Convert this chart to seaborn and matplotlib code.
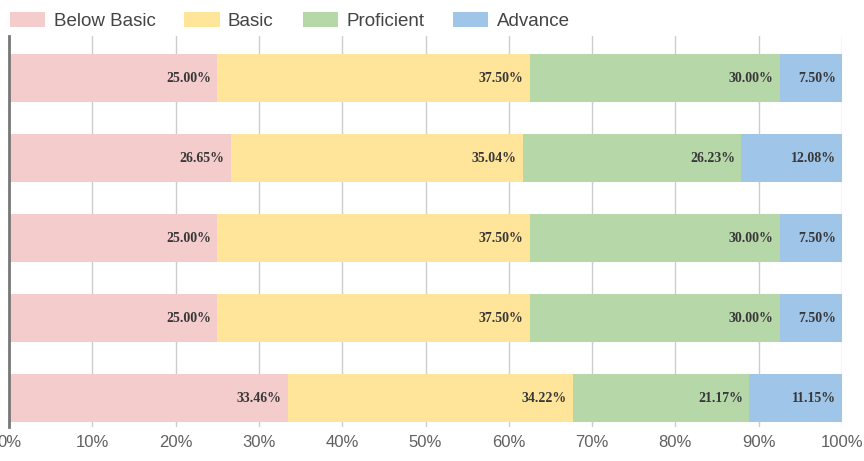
import matplotlib
matplotlib.use("Agg")
import matplotlib.pyplot as plt
import matplotlib.patches as mpatches
import numpy as np
import pandas as pd
import seaborn as sns

categories = ["Group 1", "Group 2", "Group 3", "Group 4", "Group 5"]
series_names = ["Below Basic", "Basic", "Proficient", "Advance"]
below_basic = [25.00, 26.65, 25.00, 25.00, 33.46]
basic = [37.50, 35.04, 37.50, 37.50, 34.22]
proficient = [30.00, 26.23, 30.00, 30.00, 21.17]
advance = [7.50, 12.08, 7.50, 7.50, 11.15]
x_ticks = [0, 10, 20, 30, 40, 50, 60, 70, 80, 90, 100]
x_tick_labels = ["0%", "10%", "20%", "30%", "40%", "50%", "60%", "70%", "80%", "90%", "100%"]

colors = ["#f4cccc", "#ffe599", "#b6d7a8", "#9fc5e8"]

sns.set_theme(style="white")
plt.rcParams["font.family"] = ["Liberation Sans", "DejaVu Sans"]

vals = np.array([below_basic, basic, proficient, advance])
cum = np.cumsum(vals, axis=0)

fig = plt.figure(figsize=(8.64, 4.61), dpi=100)
ax = fig.add_axes([9 / 864, 1 - 427 / 461, 833 / 864, 391 / 461])

# draw stacked bars as cumulative totals, largest first
for i in range(len(series_names) - 1, -1, -1):
    df = pd.DataFrame({"cat": categories, "val": cum[i]})
    sns.barplot(data=df, x="val", y="cat", orient="h", color=colors[i],
                width=0.6, saturation=1, ax=ax, edgecolor="none", zorder=2)

# data labels
pad = 0.75
for i in range(len(series_names)):
    for j in range(len(categories)):
        ax.text(cum[i][j] - pad, j, f"{vals[i][j]:.2f}%", ha="right", va="center",
                fontsize=10, color="#383838", family="Liberation Serif",
                fontweight="bold", zorder=3)

ax.set_xlim(0, 100)
ax.set_ylim(4.3625, -0.525)
ax.set_xticks(x_ticks)
ax.set_xticklabels(x_tick_labels, fontsize=12, color="#606060")
ax.tick_params(axis="x", length=0, pad=6)
ax.set_yticks(range(len(categories)))
ax.set_yticklabels([])
ax.tick_params(axis="y", length=0)
ax.set_xlabel("")
ax.set_ylabel("")
ax.grid(axis="x", color="#cccccc", linewidth=1, zorder=0)
ax.grid(axis="y", visible=False)
ax.set_axisbelow(True)
for s in ["top", "right", "bottom"]:
    ax.spines[s].set_visible(False)
ax.spines["left"].set_color("#777777")
ax.spines["left"].set_linewidth(2)
ax.spines["left"].set_zorder(4)

handles = [mpatches.Patch(facecolor=c, edgecolor="none") for c in colors]
fs = 13.5
fig.legend(handles, series_names, loc="center left",
           bbox_to_anchor=(10 / 864, 1 - 21 / 461), ncol=4, frameon=False,
           fontsize=fs, handlelength=1.87, handleheight=0.9,
           handletextpad=0.45, columnspacing=1.55, borderpad=0, borderaxespad=0,
           labelcolor="#444444")

fig.savefig("out.png", dpi=100)
